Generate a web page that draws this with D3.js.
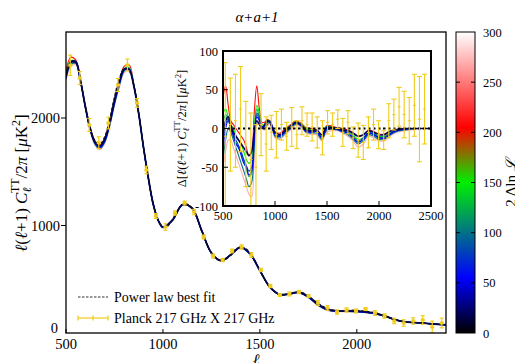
<!DOCTYPE html>
<html><head><meta charset="utf-8">
<script src="https://cdn.jsdelivr.net/npm/d3@7"></script>
<style>body{margin:0;background:#fff;} svg{display:block;font-family:"Liberation Serif","Times New Roman",serif;}</style>
</head><body><svg id="c" width="515" height="363"></svg>
<script>
// ---- Data ----
const modelL = [500,525,550,575,600,625,650,675,700,725,750,775,800,825,850,875,900,925,950,975,1000,1025,1050,1075,1100,1125,1150,1175,1200,1225,1250,1275,1300,1325,1350,1375,1400,1425,1450,1475,1500,1525,1550,1575,1600,1625,1650,1675,1700,1725,1750,1775,1800,1825,1850,1875,1900,1925,1950,1975,2000,2025,2050,2075,2100,2125,2150,2175,2200,2225,2250,2275,2300,2325,2350,2375,2400,2425,2450,2475,2500];
const modelD = [2400,2510,2510,2340,2110,1910,1790,1760,1830,1990,2200,2370,2460,2440,2290,2040,1720,1430,1190,1050,990,995,1060,1140,1195,1200,1160,1070,945,830,740,690,675,685,730,780,800,790,745,670,580,495,430,385,360,355,365,378,382,372,345,310,278,248,228,214,208,208,211,213,211,207,203,196,186,172,157,140,124,111,103,99,97,94,91,87,83,80,77,74,72];

const resL = [500,525,550,575,600,625,650,675,700,725,750,775,800,825,850,875,900,925,950,975,1000,1050,1100,1150,1200,1250,1300,1350,1400,1450,1500,1550,1600,1650,1700,1750,1800,1850,1900,1950,2000,2050,2100,2150,2200,2250,2300,2350,2400,2450,2500];
const sample270 = [-50,-30,-15,-15,-25,-35,-45,-55,-65,-75,-85,-88,-40,5,10,0,-2,3,6,-2,-12, -14,-8,-2,4,2,-6,-8,-8,-16,-4, -3,-3,-6,-10,-16,-24,-20,-10,-12,-16, -16,-11,-6,-4,-3,-2,-1,0,0,0];
const sample210 = [40,55,30,10,5,0,-5,-10,-15,-25,-35,-30,20,55,25,8,8,12,10,3,-4, -6,0,5,10,7,1,0,-2,-8,4, 3,1,0,-2,-5,-10,-8,-2,-4,-7, -7,-4,-2,0,0,0,0,0,0,0];
const sample150 = [20,25,15,5,0,-10,-15,-20,-30,-40,-45,-40,0,30,20,5,5,10,10,2,-6, -8,-2,4,9,6,0,-2,-3,-10,3, 2,0,-2,-4,-8,-14,-12,-4,-6,-10, -10,-6,-3,-1,0,0,0,0,0,0];
const sample125 = [5,18,12,0,-8,-18,-25,-32,-42,-52,-62,-58,-12,25,15,3,3,7,9,1,-8, -10,-4,1,6,4,-3,-4,-5,-12,0, 0,-1,-3,-6,-11,-17,-14,-6,-8,-12, -12,-8,-4,-2,-1,0,0,0,0,0];
const sample100 = [-40,-15,0,-5,-15,-25,-35,-45,-55,-65,-75,-70,-25,20,15,2,0,5,8,0,-10, -12,-6,0,6,3,-5,-6,-6,-14,-2, -1,-2,-5,-8,-14,-20,-16,-8,-10,-14, -14,-9,-5,-3,-2,-1,0,0,0,0];
const sample80 = [-20,5,12,2,-8,-15,-22,-30,-40,-48,-55,-50,-10,18,12,2,4,9,9,1,-7, -9,-3,2,7,4,-3,-4,-4,-11,1, 0,-1,-3,-5,-10,-16,-12,-5,-7,-11, -11,-7,-3,-2,-1,0,0,0,0,0];
const sample55 = [-30,0,10,0,-10,-20,-25,-35,-45,-50,-60,-55,-15,15,10,0,3,8,10,2,-8, -10,-4,2,7,4,-4,-5,-4,-12,0, 0,-1,-4,-6,-12,-18,-14,-6,-8,-12, -13,-8,-4,-2,-1,0,0,0,0,0];
const sample20 = [-5,10,15,5,-5,-10,-15,-20,-25,-30,-35,-30,-5,10,5,0,5,10,8,0,-5, -8,-2,3,8,5,-2,-3,-2,-8,2, 1,0,-2,-3,-6,-10,-8,-3,-5,-8, -8,-4,-2,-1,0,0,0,0,0,0];

const planckL = [522,571,620,669,719,768,817,866,915,964,1013,1062,1112,1161,1210,1259,1308,1357,1406,1456,1505,1554,1603,1652,1701,1751,1800,1849,1898,1947,1996,2045,2094,2143,2193,2242,2291,2340,2389,2438];
const planckD = [2490,2372,1935,1770,1953,2307,2493,2140,1516,1088,986,1116,1209,1125,893,716,679,763,800,726,586,437,353,363,381,344,279,233,195,214,205,223,186,158,112,93,112,121,56,93];
const planckRes = [-10,5,10,25,-20,-40,-50,5,-20,-5,-8,5,-10,2,-8,10,5,2,-5,-12,8,5,12,-5,8,-12,-15,-18,-5,5,-8,-15,10,18,28,18,10,30,12,25];
const planckErr = [95,60,60,55,55,60,55,40,35,22,30,20,18,25,18,18,15,18,20,22,15,15,12,18,15,14,22,22,20,20,18,12,22,20,25,30,30,40,55,45];

const mainXTicks = [500,1000,1500,2000];
const mainYTicks = [0,1000,2000];
const insetXTicks = [500,1000,1500,2000,2500];
const insetYTicks = [-100,-50,0,50,100];
const cbarTicks = [0,50,100,150,200,250,300];

// ---- Setup ----
const svg = d3.select("#c");
const yellow = "#f0cc1a";
const color = d3.scaleLinear().domain([0,55,150,205,300]).range(["#000000","#0000ff","#00f000","#ff0000","#ffffff"]);
const modelMap = new Map(modelL.map((l,i)=>[l, modelD[i]]));
const samples = [
  {v:270, r:sample270},{v:210, r:sample210},{v:150, r:sample150},{v:125, r:sample125},
  {v:100, r:sample100},{v:80, r:sample80},{v:55, r:sample55},{v:20, r:sample20}
];

const defs = svg.append("defs");

// ---- Main plot ----
const M = {l:66, r:446, t:32, b:333};
const x = d3.scaleLinear().domain([500,2460]).range([M.l, M.r]);
const y = d3.scaleLinear().domain([0,2800]).range([M.b, M.t]);
defs.append("clipPath").attr("id","cm").append("rect").attr("x",M.l).attr("y",M.t).attr("width",M.r-M.l).attr("height",M.b-M.t);
const gm = svg.append("g").attr("clip-path","url(#cm)");
const line = d3.line().curve(d3.curveCatmullRom.alpha(0.5));

samples.forEach(s=>{
  const pts = resL.map((l,i)=>[x(l), y(modelMap.get(l)+s.r[i])]);
  gm.append("path").attr("d", line(pts)).attr("fill","none")
    .attr("stroke", color(s.v)).attr("stroke-width", s.v===20?1.8:1.1);
});
gm.append("path").attr("d", line(modelL.map((l,i)=>[x(l), y(modelD[i])])))
  .attr("fill","none").attr("stroke","#111").attr("stroke-width",1.1).attr("stroke-dasharray","3,2");

// data points
const gp = gm.append("g").attr("stroke", yellow).attr("stroke-width",1.2);
planckL.forEach((l,i)=>{
  const cx = x(l), y1 = y(planckD[i]-planckErr[i]), y2 = y(planckD[i]+planckErr[i]), cy = y(planckD[i]);
  gp.append("line").attr("x1",cx).attr("x2",cx).attr("y1",y1).attr("y2",y2);
  gp.append("line").attr("x1",cx-2).attr("x2",cx+2).attr("y1",y1).attr("y2",y1);
  gp.append("line").attr("x1",cx-2).attr("x2",cx+2).attr("y1",y2).attr("y2",y2);
  gp.append("rect").attr("x",cx-2).attr("y",cy-1.5).attr("width",4).attr("height",3).attr("fill",yellow).attr("stroke","none");
});

// main frame & axes
svg.append("rect").attr("x",M.l).attr("y",M.t).attr("width",M.r-M.l).attr("height",M.b-M.t)
  .attr("fill","none").attr("stroke","#000").attr("stroke-width",1.3);
mainXTicks.forEach(t=>{
  svg.append("line").attr("x1",x(t)).attr("x2",x(t)).attr("y1",M.b).attr("y2",M.b-4).attr("stroke","#000");
  svg.append("text").attr("x",x(t)).attr("y",348.5).attr("text-anchor","middle").attr("font-size",14.5).text(t);
});
mainYTicks.forEach(t=>{
  if (t>0) svg.append("line").attr("x1",M.l-5).attr("x2",M.l).attr("y1",y(t)).attr("y2",y(t)).attr("stroke","#000");
  svg.append("text").attr("x",t===0?58:60).attr("y",y(t)+(t===0?-0.5:5)).attr("text-anchor","end").attr("font-size",14.5).text(t);
});
svg.append("text").attr("x",256).attr("y",365).attr("text-anchor","middle").attr("font-size",16).attr("font-style","italic").text("ℓ");
svg.append("text").attr("x",257).attr("y",22).attr("text-anchor","middle").attr("font-size",15).attr("font-style","italic").text("α+a+1");

function clLabel(g, fs, prefix){
  const t = g.append("text").attr("text-anchor","middle").attr("font-size",fs);
  const small = fs*0.7;
  if (prefix) t.append("tspan").text("Δ[");
  t.append("tspan").attr("font-style","italic").text("ℓ");
  t.append("tspan").text("(");
  t.append("tspan").attr("font-style","italic").text("ℓ");
  t.append("tspan").text("+1) ");
  t.append("tspan").attr("font-style","italic").text("C");
  t.append("tspan").attr("font-style","italic").attr("font-size",small).attr("dy",fs*0.25).text("ℓ");
  t.append("tspan").attr("font-size",small).attr("dx",-small*0.45).attr("dy",-fs*0.75).text("TT");
  t.append("tspan").attr("dy",fs*0.5).text("/2");
  t.append("tspan").attr("font-style","italic").text("π");
  t.append("tspan").text(prefix ? "] [" : " [");
  t.append("tspan").attr("font-style","italic").text("μ");
  t.append("tspan").text("K");
  t.append("tspan").attr("font-size",small).attr("dy",-fs*0.4).text("2");
  t.append("tspan").attr("dy",fs*0.4).text("]");
  return t;
}
clLabel(svg.append("g").attr("transform","translate(27,183) rotate(-90)"), 17, false);

// legend
svg.append("line").attr("x1",78).attr("x2",108).attr("y1",297).attr("y2",297)
  .attr("stroke","#333").attr("stroke-width",1).attr("stroke-dasharray","2.5,1.5");
svg.append("text").attr("x",114).attr("y",302).attr("font-size",14).text("Power law best fit");
const lg = svg.append("g").attr("stroke",yellow).attr("stroke-width",1.2);
lg.append("line").attr("x1",78).attr("x2",108).attr("y1",318).attr("y2",318);
[78,93,108].forEach(px=>lg.append("line").attr("x1",px).attr("x2",px).attr("y1",315.5).attr("y2",320.5));
svg.append("text").attr("x",114).attr("y",323).attr("font-size",14).text("Planck 217 GHz X 217 GHz");

// ---- Inset ----
const I = {l:223, r:431, t:51, b:206};
const xi = d3.scaleLinear().domain([500,2500]).range([I.l, I.r]);
const yi = d3.scaleLinear().domain([-100,100]).range([I.b, I.t]);
svg.append("rect").attr("x",I.l).attr("y",I.t).attr("width",I.r-I.l).attr("height",I.b-I.t).attr("fill","#fff");
defs.append("clipPath").attr("id","ci").append("rect").attr("x",I.l).attr("y",I.t).attr("width",I.r-I.l).attr("height",I.b-I.t);
const gi = svg.append("g").attr("clip-path","url(#ci)");
samples.forEach(s=>{
  gi.append("path").attr("d", line(resL.map((l,i)=>[xi(l), yi(s.r[i])]))).attr("fill","none")
    .attr("stroke", color(s.v)).attr("stroke-width", s.v===20?1.6:1.1);
});
gi.append("line").attr("x1",I.l).attr("x2",I.r).attr("y1",yi(0)).attr("y2",yi(0))
  .attr("stroke","#000").attr("stroke-width",2).attr("stroke-dasharray","2.5,2.5");
const gip = gi.append("g").attr("stroke",yellow).attr("stroke-width",1.1);
planckL.forEach((l,i)=>{
  const cx = xi(l), y1 = yi(planckRes[i]-planckErr[i]), y2 = yi(planckRes[i]+planckErr[i]), cy = yi(planckRes[i]);
  gip.append("line").attr("x1",cx).attr("x2",cx).attr("y1",y1).attr("y2",y2);
  gip.append("line").attr("x1",cx-2.5).attr("x2",cx+2.5).attr("y1",y1).attr("y2",y1);
  gip.append("line").attr("x1",cx-2.5).attr("x2",cx+2.5).attr("y1",y2).attr("y2",y2);
  gip.append("line").attr("x1",cx-1.5).attr("x2",cx+1.5).attr("y1",cy).attr("y2",cy);
});
svg.append("rect").attr("x",I.l).attr("y",I.t).attr("width",I.r-I.l).attr("height",I.b-I.t)
  .attr("fill","none").attr("stroke","#000").attr("stroke-width",2);
insetXTicks.forEach(t=>{
  if (t>500 && t<2500) svg.append("line").attr("x1",xi(t)).attr("x2",xi(t)).attr("y1",I.b).attr("y2",I.b-5).attr("stroke","#000");
  svg.append("text").attr("x",xi(t)).attr("y",220).attr("text-anchor","middle").attr("font-size",12.5).text(t);
});
insetYTicks.forEach(t=>{
  if (t>-100 && t<100) svg.append("line").attr("x1",I.l).attr("x2",I.l+5).attr("y1",yi(t)).attr("y2",yi(t)).attr("stroke","#000");
  svg.append("text").attr("x",218).attr("y",yi(t)+4.5).attr("text-anchor","end").attr("font-size",12.5).text(t);
});
clLabel(svg.append("g").attr("transform","translate(186,128.5) rotate(-90)"), 12.5, true);

// ---- Colorbar ----
const C = {l:456, r:475, t:32, b:333};
const yc = d3.scaleLinear().domain([0,300]).range([C.b, C.t]);
const grad = defs.append("linearGradient").attr("id","cg").attr("x1",0).attr("x2",0).attr("y1",1).attr("y2",0);
color.domain().forEach((d,i)=>grad.append("stop").attr("offset", d/300).attr("stop-color", color.range()[i]));
svg.append("rect").attr("x",C.l).attr("y",C.t).attr("width",C.r-C.l).attr("height",C.b-C.t)
  .attr("fill","url(#cg)").attr("stroke","#000").attr("stroke-width",1);
cbarTicks.forEach(t=>{
  if (t>0 && t<300) {
    svg.append("line").attr("x1",C.l).attr("x2",C.l+4).attr("y1",yc(t)).attr("y2",yc(t)).attr("stroke","#000");
    svg.append("line").attr("x1",C.r-4).attr("x2",C.r).attr("y1",yc(t)).attr("y2",yc(t)).attr("stroke","#000");
  }
  svg.append("text").attr("x",483).attr("y",yc(t)+4.5).attr("font-size",12.5).text(t);
});
const cl = svg.append("text").attr("transform","translate(516,183) rotate(-90)").attr("text-anchor","middle").attr("font-size",15);
cl.append("tspan").text("2 Δln ");
cl.append("tspan").attr("font-style","italic").text("ℒ");
</script></body></html>
